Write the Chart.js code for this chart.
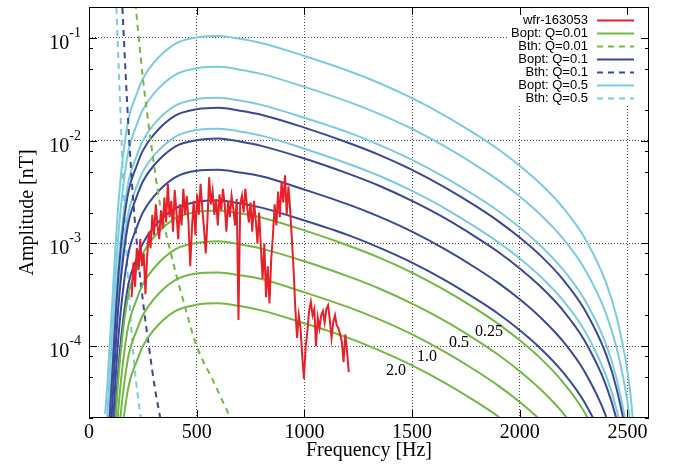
<!DOCTYPE html>
<html>
<head>
<meta charset="utf-8">
<script src="https://cdn.jsdelivr.net/npm/chart.js@4.4.1/dist/chart.umd.min.js"></script>
<style>
body { margin: 0; background: #fff; }
</style>
</head>
<body>
<canvas id="chart" width="675" height="474"></canvas>
<script>
// measured spectrum
const redFreq = [198, 206, 214, 222, 230, 238, 246, 254, 262, 270, 278, 286, 294, 302, 310, 318, 326, 334, 342, 350,
	358, 366, 374, 382, 390, 398, 406, 414, 422, 430, 438, 446, 454, 462, 470, 478, 486, 494, 502, 510,
	518, 526, 534, 542, 550, 558, 566, 574, 582, 590, 598, 606, 614, 622, 630, 638, 646, 654, 662, 670,
	678, 686, 694, 702, 710, 718, 726, 734, 742, 750, 758, 766, 774, 782, 790, 798, 806, 814, 822, 830,
	838, 846, 854, 862, 870, 878, 886, 894, 902, 910, 918, 926, 934, 942, 950, 958, 966, 974, 982, 990,
	998, 1006, 1014, 1022, 1030, 1038, 1046, 1054, 1062, 1070, 1078, 1086, 1094, 1102, 1110, 1118, 1126, 1134, 1142, 1150,
	1158, 1166, 1174, 1182, 1190, 1198, 1206];
const redAmp = [3.0e-4, 6.5e-4, 3.8e-4, 9.0e-4, 5.5e-4, 1.1e-3, 6.0e-4, 8.0e-4, 3.2e-4, 7.5e-4, 1.3e-3, 9.0e-4, 1.9e-3, 1.2e-3, 2.4e-3, 1.5e-3, 1.1e-3, 2.1e-3, 1.4e-3, 2.8e-3,
	1.6e-3, 3.8e-3, 1.8e-3, 2.6e-3, 1.3e-3, 3.3e-3, 2.0e-3, 1.1e-3, 2.4e-3, 1.5e-3, 3.4e-3, 1.9e-3, 2.9e-3, 1.6e-3, 6.0e-4, 1.4e-3, 2.6e-3, 1.2e-3, 3.0e-3, 1.9e-3,
	3.8e-3, 2.2e-3, 1.4e-3, 8.0e-4, 1.7e-3, 4.4e-3, 2.4e-3, 3.2e-3, 1.9e-3, 2.7e-3, 1.5e-3, 3.0e-3, 2.1e-3, 3.4e-3, 2.4e-3, 1.3e-3, 2.6e-3, 1.8e-3, 2.9e-3, 2.2e-3,
	1.5e-3, 2.7e-3, 1.8e-4, 2.4e-3, 2.9e-3, 2.0e-3, 3.4e-3, 2.3e-3, 1.6e-3, 2.5e-3, 1.3e-3, 2.6e-3, 1.7e-3, 1.0e-3, 2.0e-3, 9.0e-4, 4.5e-4, 1.0e-3, 3.0e-4, 6.0e-4,
	2.6e-4, 7.0e-4, 1.2e-3, 2.4e-3, 1.5e-3, 3.2e-3, 1.8e-3, 4.0e-3, 2.5e-3, 4.6e-3, 1.9e-3, 3.6e-3, 2.1e-3, 1.1e-3, 5.5e-4, 2.3e-4, 1.2e-4, 2.0e-4, 1.5e-4, 8.0e-5,
	4.8e-5, 1.0e-4, 1.4e-4, 2.2e-4, 2.7e-4, 2.0e-4, 2.3e-4, 1.0e-4, 1.9e-4, 1.5e-4, 2.0e-4, 2.2e-4, 1.7e-4, 2.3e-4, 2.5e-4, 1.8e-4, 1.2e-4, 1.7e-4, 2.0e-4, 1.6e-4,
	1.5e-4, 1.3e-4, 1.1e-4, 7.0e-5, 1.3e-4, 9.0e-5, 5.6e-5];

// Bopt curves, one per distance (0.25, 0.5, 1.0, 2.0)
const curveFreq = [75, 85, 95, 110, 125, 140, 160, 185, 220, 250, 300, 400, 500, 600, 700, 800, 1000, 1200,
	1350, 1500, 1650, 1800, 1900, 2000, 2100, 2200, 2300, 2400, 2450, 2500, 2520, 2530];

const boptQ05 = [
	[2.19e-5, 4.28e-5, 9.35e-5, 3.13e-4, 1.094e-3, 2.99e-3, 7.64e-3, 0.0167, 0.0280, 0.0400, 0.0571, 0.0875, 0.1012, 0.1045, 0.0982, 0.0893, 0.0668, 0.0482,
		0.0362, 0.0259, 0.01766, 1.138e-2, 8.26e-3, 5.71e-3, 3.74e-3, 2.24e-3, 1.143e-3, 4.18e-4, 1.91e-4, 5.71e-5, 2.56e-5, 1.25e-5],
	[1.1e-5, 2.14e-5, 4.68e-5, 1.57e-4, 5.47e-4, 1.50e-3, 3.82e-3, 8.35e-3, 0.0140, 0.0200, 0.0286, 0.0438, 0.0506, 0.0523, 0.0491, 0.0447, 0.0334, 0.0241,
		0.0181, 0.0130, 8.83e-3, 5.69e-3, 4.13e-3, 2.86e-3, 1.87e-3, 1.12e-3, 5.7e-4, 2.09e-4, 9.55e-5, 2.86e-5, 1.28e-5, 6.2e-6],
	[5.5e-6, 1.07e-5, 2.34e-5, 7.8e-5, 2.74e-4, 7.5e-4, 1.91e-3, 4.18e-3, 7.0e-3, 0.0100, 0.0143, 0.0219, 0.0253, 0.0261, 0.0246, 0.0223, 0.0167, 0.0121,
		9.05e-3, 6.5e-3, 4.42e-3, 2.85e-3, 2.07e-3, 1.43e-3, 9.35e-4, 5.6e-4, 2.86e-4, 1.05e-4, 4.78e-5, 1.43e-5, 6.4e-6, 3.1e-6],
	[2.7e-6, 5.4e-6, 1.17e-5, 3.9e-5, 1.37e-4, 3.74e-4, 9.6e-4, 2.09e-3, 3.5e-3, 5.0e-3, 7.1e-3, 0.0109, 0.0127, 0.0131, 0.0123, 0.0112, 8.35e-3, 6.0e-3,
		4.53e-3, 3.24e-3, 2.21e-3, 1.42e-3, 1.03e-3, 7.14e-4, 4.68e-4, 2.8e-4, 1.43e-4, 5.2e-5, 2.39e-5, 7.1e-6, 3.2e-6, 1.56e-6]
];
const boptQ01 = [
	[4.4e-6, 8.6e-6, 1.87e-5, 6.3e-5, 2.19e-4, 6.0e-4, 1.53e-3, 3.34e-3, 5.6e-3, 8.0e-3, 0.0114, 0.0175, 0.0202, 0.0209, 0.0196, 0.0179, 0.0134, 9.6e-3,
		7.24e-3, 5.2e-3, 3.53e-3, 2.28e-3, 1.65e-3, 1.14e-3, 7.48e-4, 4.48e-4, 2.29e-4, 8.4e-5, 3.82e-5, 1.14e-5, 5.1e-6, 2.5e-6],
	[2.2e-6, 4.3e-6, 9.4e-6, 3.13e-5, 1.09e-4, 2.99e-4, 7.6e-4, 1.67e-3, 2.80e-3, 4.0e-3, 5.7e-3, 8.75e-3, 0.0101, 0.0105, 9.8e-3, 8.9e-3, 6.7e-3, 4.8e-3,
		3.62e-3, 2.59e-3, 1.77e-3, 1.14e-3, 8.26e-4, 5.71e-4, 3.74e-4, 2.24e-4, 1.14e-4, 4.18e-5, 1.91e-5, 5.7e-6, 2.56e-6, 1.25e-6],
	[1.1e-6, 2.1e-6, 4.7e-6, 1.57e-5, 5.5e-5, 1.50e-4, 3.8e-4, 8.4e-4, 1.40e-3, 2.0e-3, 2.86e-3, 4.4e-3, 5.1e-3, 5.2e-3, 4.9e-3, 4.5e-3, 3.34e-3, 2.41e-3,
		1.81e-3, 1.30e-3, 8.83e-4, 5.7e-4, 4.13e-4, 2.86e-4, 1.87e-4, 1.12e-4, 5.7e-5, 2.09e-5, 9.5e-6, 2.86e-6, 1.28e-6, 6.2e-7],
	[5.5e-7, 1.07e-6, 2.3e-6, 7.8e-6, 2.7e-5, 7.5e-5, 1.91e-4, 4.2e-4, 7.0e-4, 1.0e-3, 1.43e-3, 2.19e-3, 2.53e-3, 2.61e-3, 2.46e-3, 2.23e-3, 1.67e-3, 1.21e-3,
		9.05e-4, 6.5e-4, 4.42e-4, 2.85e-4, 2.07e-4, 1.43e-4, 9.35e-5, 5.6e-5, 2.86e-5, 1.05e-5, 4.8e-6, 1.43e-6, 6.4e-7, 3.1e-7]
];
const boptQ001 = [
	[4.4e-7, 8.6e-7, 1.87e-6, 6.3e-6, 2.19e-5, 6.0e-5, 1.53e-4, 3.34e-4, 5.6e-4, 8.0e-4, 1.14e-3, 1.75e-3, 2.02e-3, 2.09e-3, 1.96e-3, 1.79e-3, 1.34e-3, 9.6e-4,
		7.24e-4, 5.2e-4, 3.53e-4, 2.28e-4, 1.65e-4, 1.14e-4, 7.48e-5, 4.48e-5, 2.29e-5, 8.4e-6, 3.8e-6, 1.14e-6, 5.1e-7, 2.5e-7],
	[2.2e-7, 4.3e-7, 9.4e-7, 3.1e-6, 1.09e-5, 3.0e-5, 7.6e-5, 1.67e-4, 2.80e-4, 4.0e-4, 5.7e-4, 8.75e-4, 1.01e-3, 1.05e-3, 9.8e-4, 8.9e-4, 6.7e-4, 4.8e-4,
		3.62e-4, 2.59e-4, 1.77e-4, 1.14e-4, 8.26e-5, 5.71e-5, 3.74e-5, 2.24e-5, 1.14e-5, 4.2e-6, 1.9e-6, 5.7e-7, 2.6e-7, 1.25e-7],
	[1.1e-7, 2.1e-7, 4.7e-7, 1.57e-6, 5.5e-6, 1.50e-5, 3.8e-5, 8.4e-5, 1.40e-4, 2.0e-4, 2.86e-4, 4.4e-4, 5.1e-4, 5.2e-4, 4.9e-4, 4.5e-4, 3.34e-4, 2.41e-4,
		1.81e-4, 1.30e-4, 8.83e-5, 5.7e-5, 4.13e-5, 2.86e-5, 1.87e-5, 1.12e-5, 5.7e-6, 2.1e-6, 9.5e-7, 2.9e-7, 1.3e-7, 6.2e-8],
	[5.5e-8, 1.1e-7, 2.3e-7, 7.8e-7, 2.7e-6, 7.5e-6, 1.91e-5, 4.2e-5, 7.0e-5, 1.0e-4, 1.43e-4, 2.19e-4, 2.53e-4, 2.61e-4, 2.46e-4, 2.23e-4, 1.67e-4, 1.21e-4,
		9.05e-5, 6.5e-5, 4.42e-5, 2.85e-5, 2.07e-5, 1.43e-5, 9.35e-6, 5.6e-6, 2.86e-6, 1.05e-6, 4.8e-7, 1.43e-7, 6.4e-8, 3.1e-8]
];

// Bth curves
const bthQ05Freq = [120, 127, 139, 150, 160, 178, 200, 220, 240, 250];
const bthQ05 = [0.409, 0.200, 0.0447, 0.0114, 3.34e-3, 5.85e-4, 1.17e-4, 4.28e-5, 2.05e-5, 1.50e-5];
const bthQ01Freq = [148, 155, 170, 186, 205, 230, 255, 280, 305, 330, 340];
const bthQ01 = [0.409, 0.200, 0.0447, 0.0107, 2.67e-3, 6.68e-4, 2.29e-4, 9.35e-5, 4.0e-5, 2.05e-5, 1.56e-5];
const bthQ001Freq = [200, 217, 248, 286, 330, 387, 449, 500, 572, 658, 700];
const bthQ001 = [0.457, 0.200, 0.0447, 0.0102, 2.39e-3, 7.0e-4, 2.29e-4, 1.0e-4, 4.8e-5, 2.0e-5, 1.37e-5];

// ticks and labels
const xMajor = [500, 1000, 1500, 2000, 2500];
const xLabels = [0, 500, 1000, 1500, 2000, 2500];
const yMajor = [1e-4, 1e-3, 1e-2, 1e-1];
const yMinor = [2e-5, 5e-5, 8e-5, 2e-4, 5e-4, 8e-4, 2e-3, 5e-3, 8e-3, 2e-2, 5e-2, 8e-2, 2e-1];
const distLabels = ['0.25', '0.5', '1.0', '2.0'];
const distLabelFreq = [1857, 1718, 1569, 1425];
const distLabelAmp = [1.25e-4, 9.8e-5, 7.1e-5, 5.2e-5];

const RED = '#e8202a', GREEN = '#72b843', BLUE = '#3a4898', CYAN = '#7ccbdf';

function pts(xs, ys) {
	return xs.map((x, i) => ({ x: x, y: ys[i] }));
}
function curve(label, color, xs, ys, dash) {
	return {
		label: label,
		data: pts(xs, ys),
		borderColor: color,
		borderWidth: 2,
		borderDash: dash || [],
		pointRadius: 0,
		fill: false,
		cubicInterpolationMode: 'monotone'
	};
}

let datasets = [{
	label: 'wfr-163053',
	data: pts(redFreq, redAmp),
	borderColor: RED,
	borderWidth: 2,
	pointRadius: 0,
	tension: 0,
	fill: false
}];
boptQ001.forEach((arr, i) => datasets.push(curve(i === 0 ? 'Bopt: Q=0.01' : '', GREEN, curveFreq, arr)));
datasets.push(curve('Bth: Q=0.01', GREEN, bthQ001Freq, bthQ001, [6, 5]));
boptQ01.forEach((arr, i) => datasets.push(curve(i === 0 ? 'Bopt: Q=0.1' : '', BLUE, curveFreq, arr)));
datasets.push(curve('Bth: Q=0.1', BLUE, bthQ01Freq, bthQ01, [6, 5]));
boptQ05.forEach((arr, i) => datasets.push(curve(i === 0 ? 'Bopt: Q=0.5' : '', CYAN, curveFreq, arr)));
datasets.push(curve('Bth: Q=0.5', CYAN, bthQ05Freq, bthQ05, [6, 5]));

const SERIF = '"Liberation Serif", "Times New Roman", serif';
const SANS = '"Liberation Sans", Arial, sans-serif';

const gnuplotLook = {
	id: 'gnuplotLook',
	afterDatasetsDraw(chart) {
		const ctx = chart.ctx;
		const x = chart.scales.x, y = chart.scales.y;
		ctx.save();
		// curve labels
		ctx.fillStyle = '#000';
		ctx.font = '16px ' + SERIF;
		ctx.textAlign = 'center';
		ctx.textBaseline = 'alphabetic';
		distLabels.forEach((t, i) => {
			ctx.fillText(t, x.getPixelForValue(distLabelFreq[i]), y.getPixelForValue(distLabelAmp[i]));
		});
		// legend
		ctx.fillStyle = '#fff';
		ctx.fillRect(507, 8, 141, 97);
		ctx.font = '13px ' + SANS;
		ctx.textAlign = 'right';
		ctx.textBaseline = 'middle';
		let row = 0;
		chart.data.datasets.forEach(ds => {
			if (!ds.label) return;
			const ly = 20 + row * 13;
			ctx.fillStyle = '#000';
			ctx.fillText(ds.label, 588, ly);
			ctx.strokeStyle = ds.borderColor;
			ctx.lineWidth = 2;
			ctx.setLineDash(ds.borderDash || []);
			ctx.beginPath();
			ctx.moveTo(597, ly + 0.5);
			ctx.lineTo(634, ly + 0.5);
			ctx.stroke();
			ctx.setLineDash([]);
			row++;
		});
		ctx.restore();
	},
	afterDraw(chart) {
		const ctx = chart.ctx;
		const a = chart.chartArea;
		const x = chart.scales.x, y = chart.scales.y;
		ctx.save();
		ctx.strokeStyle = '#000';
		ctx.lineWidth = 1;
		ctx.beginPath();
		xMajor.forEach(v => {
			const px = Math.round(x.getPixelForValue(v)) + 0.5;
			ctx.moveTo(px, a.bottom); ctx.lineTo(px, a.bottom - 8);
			ctx.moveTo(px, a.top); ctx.lineTo(px, a.top + 8);
		});
		yMajor.forEach(v => {
			const py = Math.round(y.getPixelForValue(v)) + 0.5;
			ctx.moveTo(a.left, py); ctx.lineTo(a.left + 8, py);
			ctx.moveTo(a.right, py); ctx.lineTo(a.right - 8, py);
		});
		yMinor.forEach(v => {
			const py = Math.round(y.getPixelForValue(v)) + 0.5;
			ctx.moveTo(a.left, py); ctx.lineTo(a.left + 4, py);
			ctx.moveTo(a.right, py); ctx.lineTo(a.right - 4, py);
		});
		ctx.stroke();
		ctx.strokeRect(Math.round(a.left) + 0.5, Math.round(a.top) + 0.5, Math.round(a.width) - 1, Math.round(a.height) - 1);

		ctx.fillStyle = '#000';
		// x tick labels
		ctx.font = '20px ' + SERIF;
		ctx.textAlign = 'center';
		ctx.textBaseline = 'alphabetic';
		xLabels.forEach(v => ctx.fillText(String(v), x.getPixelForValue(v), a.bottom + 20));
		ctx.fillText('Frequency [Hz]', (a.left + a.right) / 2, a.bottom + 38);
		// y tick labels 10^n
		ctx.textAlign = 'left';
		const right = a.left - 8;
		yMajor.forEach(v => {
			const py = y.getPixelForValue(v);
			const sup = '-' + Math.round(-Math.log10(v));
			ctx.font = '14px ' + SERIF;
			const ws = ctx.measureText(sup).width;
			ctx.fillText(sup, right - ws, py - 1);
			ctx.font = '20px ' + SERIF;
			const wb = ctx.measureText('10').width;
			ctx.fillText('10', right - ws - wb, py + 11);
		});
		// y title
		ctx.translate(33, (a.top + a.bottom) / 2);
		ctx.rotate(-Math.PI / 2);
		ctx.textAlign = 'center';
		ctx.font = '20px ' + SERIF;
		ctx.fillText('Amplitude [nT]', 0, 0);
		ctx.restore();
	}
};

const gridStyle = {
	color: 'rgba(0,0,0,0.7)',
	lineWidth: 1,
	drawTicks: false
};

new Chart(document.getElementById('chart'), {
	type: 'line',
	data: { datasets: datasets },
	options: {
		responsive: false,
		animation: false,
		devicePixelRatio: 1,
		layout: { padding: { left: 89, right: 26, top: 7, bottom: 56 } },
		plugins: {
			legend: { display: false },
			tooltip: { enabled: false }
		},
		scales: {
			x: {
				type: 'linear',
				min: 0,
				max: 2600,
				afterBuildTicks: s => { s.ticks = xMajor.map(v => ({ value: v })); },
				ticks: { display: false },
				grid: gridStyle,
				border: { display: false, dash: [1, 2] }
			},
			y: {
				type: 'logarithmic',
				min: 2e-5,
				max: 0.2,
				afterBuildTicks: s => { s.ticks = yMajor.map(v => ({ value: v })); },
				ticks: { display: false },
				grid: gridStyle,
				border: { display: false, dash: [1, 2] }
			}
		}
	},
	plugins: [gnuplotLook]
});
</script>
</body>
</html>
